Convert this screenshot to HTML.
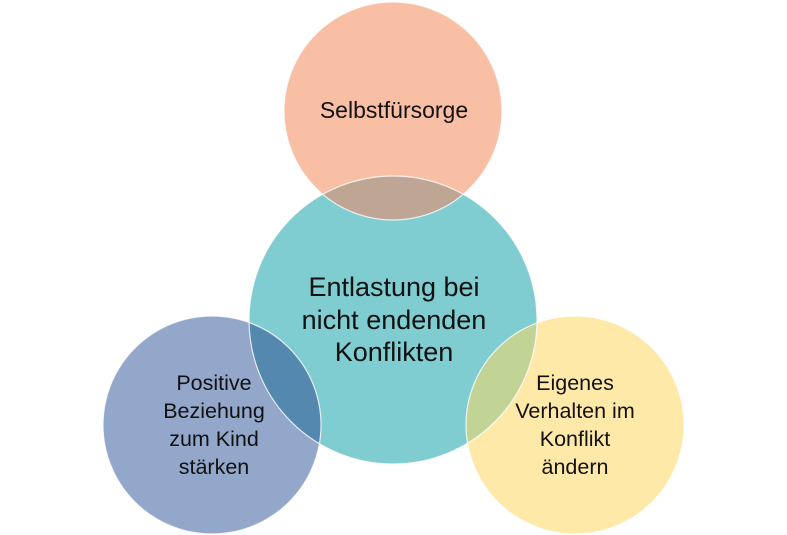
<!DOCTYPE html>
<html><head><meta charset="utf-8"><style>
html,body{margin:0;padding:0;background:#fff;}
svg{display:block;}
text{font-family:"Liberation Sans","DejaVu Sans",sans-serif;fill:#111;text-anchor:middle;}
</style></head><body>
<svg width="787" height="535" viewBox="0 0 787 535" xmlns="http://www.w3.org/2000/svg">
<defs>
<clipPath id="cc"><circle cx="393" cy="320" r="144"/></clipPath>
</defs>
<circle cx="393" cy="111" r="109" fill="#F9BFA5"/>
<circle cx="212" cy="425" r="109" fill="#92A7CA"/>
<circle cx="575" cy="425" r="109" fill="#FFE9A9"/>
<circle cx="393" cy="320" r="144" fill="#7FCCD1"/>
<g clip-path="url(#cc)">
<circle cx="393" cy="111" r="109" fill="#BFA594"/>
<circle cx="212" cy="425" r="109" fill="#5588AF"/>
<circle cx="575" cy="425" r="109" fill="#C2D396"/>
</g>
<g fill="none" stroke="#fff" stroke-width="1.2" opacity="0.8">
<circle cx="393" cy="111" r="109"/>
<circle cx="212" cy="425" r="109"/>
<circle cx="575" cy="425" r="109"/>
<circle cx="393" cy="320" r="144"/>
</g>
<text x="394" y="118" font-size="23">Selbstfürsorge</text>
<text x="394" y="296" font-size="27">Entlastung bei</text>
<text x="394" y="329" font-size="27">nicht endenden</text>
<text x="394" y="361" font-size="27">Konflikten</text>
<text x="214" y="390" font-size="21.5">Positive</text>
<text x="214" y="418" font-size="21.5">Beziehung</text>
<text x="214" y="446" font-size="21.5">zum Kind</text>
<text x="214" y="474" font-size="21.5">stärken</text>
<text x="575" y="390" font-size="21.5">Eigenes</text>
<text x="575" y="418" font-size="21.5">Verhalten im</text>
<text x="575" y="446" font-size="21.5">Konflikt</text>
<text x="575" y="474" font-size="21.5">ändern</text>
</svg>
</body></html>
